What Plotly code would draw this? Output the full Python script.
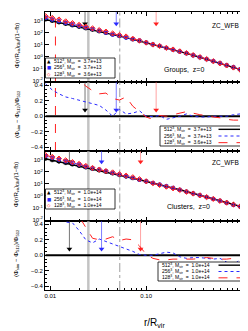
import plotly.graph_objects as go
from plotly.subplots import make_subplots

# ---------------- data ----------------
r = [0.00891, 0.01047, 0.0123, 0.01445, 0.0170, 0.01995, 0.02344, 0.02754,
     0.03236, 0.0380, 0.04467, 0.05248, 0.06166, 0.07244, 0.0851, 0.100,
     0.1175, 0.138, 0.1622, 0.1905, 0.2239, 0.263, 0.309, 0.363, 0.4266,
     0.501, 0.5888, 0.6918, 0.8128, 0.955, 1.122]

logphi512_groups = [3.12, 3.00, 2.88, 2.75, 2.63, 2.51, 2.38, 2.26, 2.13, 2.00,
                    1.87, 1.74, 1.61, 1.47, 1.34, 1.20, 1.05, 0.91, 0.76, 0.61,
                    0.45, 0.30, 0.14, -0.02, -0.18, -0.35, -0.52, -0.69, -0.86,
                    -1.04, -1.22]
res256_groups = [0.42, 0.34, 0.29, 0.25, 0.23, 0.21, 0.19, 0.17, 0.14, 0.08,
                 0.00, 0.09, 0.03, 0.04, 0.07, 0.00, -0.005, 0.01, -0.04, -0.02,
                 0.00, 0.03, 0.00, -0.01, -0.01, 0.00, 0.00, 0.00, 0.02, 0.03, 0.03]
res128_groups = [0.90, 0.80, 0.75, 0.65, 0.55, 0.47, 0.39, 0.33, 0.29, 0.30,
                 0.23, 0.21, 0.25, 0.13, 0.06, -0.01, -0.04, 0.01, 0.00, 0.02,
                 0.04, 0.06, 0.04, 0.02, 0.01, -0.01, -0.02, -0.04, -0.05, -0.05, -0.05]

logphi512_clusters = [3.10, 2.98, 2.86, 2.74, 2.62, 2.50, 2.37, 2.25, 2.12, 2.00,
                      1.87, 1.74, 1.61, 1.48, 1.35, 1.22, 1.08, 0.94, 0.80, 0.66,
                      0.52, 0.37, 0.22, 0.07, -0.08, -0.23, -0.39, -0.54, -0.70,
                      -0.86, -1.02]
res256_clusters = [0.70, 0.62, 0.50, 0.43, 0.42, 0.32, 0.20, 0.16, 0.21, 0.18,
                   0.15, 0.12, 0.09, 0.05, 0.01, 0.00, 0.00, 0.02, 0.04, 0.03,
                   -0.02, -0.04, -0.03, -0.03, -0.04, -0.05, -0.04, -0.09, -0.12,
                   -0.06, -0.04]
res128_clusters = [1.00, 0.90, 0.80, 0.70, 0.60, 0.50, 0.36, 0.22, 0.20, 0.21,
                   0.24, 0.19, 0.21, 0.20, 0.12, 0.01, -0.04, -0.06, -0.06, -0.05,
                   -0.05, -0.05, -0.05, -0.04, -0.03, -0.04, -0.05, -0.05, -0.04,
                   -0.04, -0.05]

# convergence-radius arrows (r, value in profile panel, value in residual panel)
arrow_r_groups = [0.023, 0.0487, 0.127]
arrow_r_clusters = [0.0158, 0.0342, 0.0873]
arrow_prof_groups = 600.0
arrow_prof_clusters = 700.0
arrow_res = 0.08

# vertical reference lines
vline_red_groups = 0.0113
vline_gray_solid = 0.0249
vline_gray_dashdot = 0.053

labels_groups = ["512<sup>3</sup>, M<sub>vir</sub>\u00a0 = \u00a03.7e+13",
                 "256<sup>3</sup>, M<sub>vir</sub>\u00a0 = \u00a03.7e+13",
                 "128<sup>3</sup>, M<sub>vir</sub>\u00a0 = \u00a03.6e+13"]
labels_clusters = ["512<sup>3</sup>, M<sub>vir</sub>\u00a0 = \u00a01.0e+14",
                   "256<sup>3</sup>, M<sub>vir</sub>\u00a0 = \u00a01.0e+14",
                   "128<sup>3</sup>, M<sub>vir</sub>\u00a0 = \u00a01.0e+14"]

ytick_vals = [1e-2, 1e-1, 1e0, 1e1, 1e2, 1e3]
ytick_text = ["10<sup>-2</sup>", "10<sup>-1</sup>", "10<sup>0</sup>",
              "10<sup>1</sup>", "10<sup>2</sup>", "10<sup>3</sup>"]
rtick_vals = [-0.4, -0.2, 0.0, 0.2, 0.4]
xtick_vals = [0.01, 0.1]
xtick_text = ["0.01", "0.10"]

# ---------------- styles ----------------
W, H = 248, 331
L, R, T, B = 37, 6, 4, 49
FONT = "Liberation Sans"
BLACK, BLUE, RED = "#000000", "#2a2aff", "#ff2020"
YPROF = [-2.05, 3.75]
YRES = [-0.45, 0.45]
XR = [-2.056, 0.083]


def px(x):
    return (x - L) / (W - L - R)


def py(y):
    return (H - B - y) / (H - T - B)


fig = make_subplots(rows=4, cols=1, shared_xaxes=True, vertical_spacing=0)

styles = [
    dict(color=BLACK, dash="solid", width=1.4, symbol="triangle-up", msize=3.5),
    dict(color=BLUE, dash="dot", width=1.0, symbol="square-open", msize=3),
    dict(color=RED, dash="dash", width=1.0, symbol="diamond-open", msize=4),
]

panels = [
    (1, logphi512_groups, res256_groups, res128_groups, arrow_r_groups, arrow_prof_groups),
    (3, logphi512_clusters, res256_clusters, res128_clusters, arrow_r_clusters, arrow_prof_clusters),
]

for row, logphi, res256, res128, arr_r, arr_prof in panels:
    phi512 = [10 ** v for v in logphi]
    res512 = [(p - p) / p for p in phi512]
    phi256 = [p * (1 + e) for p, e in zip(phi512, res256)]
    phi128 = [p * (1 + e) for p, e in zip(phi512, res128)]
    profs = [phi512, phi256, phi128]
    ress = [res512, res256, res128]

    # vertical lines
    vls = [(vline_gray_solid, "rgba(170,170,170,0.7)", "solid", 2.5),
           (vline_gray_dashdot, "rgba(120,120,120,0.9)", "dashdot", 0.8)]
    if row == 1:
        vls.append((vline_red_groups, RED, "dash", 1.0))
    for xv, c, d, w in vls:
        fig.add_trace(go.Scatter(x=[xv, xv], y=[10 ** YPROF[0], 10 ** YPROF[1]], mode="lines",
                                 line=dict(color=c, dash=d, width=w), showlegend=False,
                                 hoverinfo="skip"), row=row, col=1)
        fig.add_trace(go.Scatter(x=[xv, xv], y=YRES, mode="lines",
                                 line=dict(color=c, dash=d, width=w), showlegend=False,
                                 hoverinfo="skip"), row=row + 1, col=1)

    # arrows
    arrow_cols = ["rgba(60,60,60,0.7)", "rgba(40,40,255,0.6)", "rgba(255,90,90,0.55)"]
    arrow_heads = [BLACK, BLUE, RED]
    for xa, lc, hc in zip(arr_r, arrow_cols, arrow_heads):
        fig.add_trace(go.Scatter(x=[xa, xa], y=[10 ** YPROF[1], arr_prof], mode="lines",
                                 line=dict(color=lc, width=1), showlegend=False,
                                 hoverinfo="skip"), row=row, col=1)
        fig.add_trace(go.Scatter(x=[xa], y=[arr_prof], mode="markers",
                                 marker=dict(symbol="triangle-down", size=5, color=hc),
                                 showlegend=False, hoverinfo="skip"), row=row, col=1)
        fig.add_trace(go.Scatter(x=[xa, xa], y=[YRES[1], arrow_res], mode="lines",
                                 line=dict(color=lc, width=1), showlegend=False,
                                 hoverinfo="skip"), row=row + 1, col=1)
        fig.add_trace(go.Scatter(x=[xa], y=[arrow_res], mode="markers",
                                 marker=dict(symbol="triangle-down", size=5, color=hc),
                                 showlegend=False, hoverinfo="skip"), row=row + 1, col=1)

    # profile lines
    for prof, st in zip(profs, styles):
        fig.add_trace(go.Scatter(x=r, y=prof, mode="lines",
                                 line=dict(color=st["color"], dash=st["dash"], width=st["width"]),
                                 showlegend=False), row=row, col=1)
    # profile markers with error bars
    for prof, st in zip(profs, styles):
        fig.add_trace(go.Scatter(x=r, y=prof, mode="markers",
                                 marker=dict(symbol=st["symbol"], size=st["msize"], color=st["color"],
                                             line=dict(width=1, color=st["color"])),
                                 error_y=dict(type="percent", value=25, thickness=0.8, width=1,
                                              color=st["color"]),
                                 showlegend=False), row=row, col=1)
    # residual lines
    for res, st in zip(ress, styles):
        w = 1.8 if st["color"] == BLACK else st["width"]
        fig.add_trace(go.Scatter(x=r, y=res, mode="lines",
                                 line=dict(color=st["color"], dash=st["dash"], width=w),
                                 showlegend=False), row=row + 1, col=1)

# ---------------- axes ----------------
axis_common = dict(showline=True, linecolor="black", linewidth=1, mirror="allticks",
                   ticks="inside", tickcolor="black", ticklen=4, tickwidth=0.8,
                   showgrid=False, zeroline=False,
                   tickfont=dict(family=FONT, size=6, color="black"))
for i in range(1, 5):
    fig.update_xaxes(type="log", range=XR, tickvals=xtick_vals, ticktext=xtick_text,
                     minor=dict(ticks="inside", ticklen=2, tickcolor="black", dtick="D1"),
                     showticklabels=(i == 4), row=i, col=1, **axis_common)
for i in (1, 3):
    fig.update_yaxes(type="log", range=YPROF, tickvals=ytick_vals, ticktext=ytick_text,
                     row=i, col=1, **axis_common)
for i in (2, 4):
    fig.update_yaxes(range=YRES, tickvals=rtick_vals, tickformat=".1f",
                     minor=dict(ticks="inside", ticklen=2, tickcolor="black", dtick=0.05),
                     row=i, col=1, **axis_common)

# ---------------- annotations / manual legends ----------------
ann = []
shapes = []


def text(x, y, s, size, **kw):
    d = dict(x=px(x), y=py(y), xref="paper", yref="paper", text=s, showarrow=False,
             xanchor="center", yanchor="middle",
             font=dict(family=FONT, size=size, color="black"))
    d.update(kw)
    ann.append(d)


text(217, 18, "ZC_WFB", 6.5)
text(217, 155, "ZC_WFB", 6.5)
text(176, 62, "Groups,  z=0", 7)
text(180, 198, "Clusters,  z=0", 7)
text(146, 315, "r/R<sub>vir</sub>", 10)

ytitle1 = "\u03a6(r/R<sub>vir</sub>)<sub>DM</sub>/(1\u2212fb)"
ytitle2 = "(\u03a6<sub>sim</sub> \u2212 \u03a6<sub>512</sub>)/\u03a6<sub>512</sub>"
for off in (0, 139):
    text(9, 37 + off, ytitle1, 6, textangle=-90)
    text(9, 106 + off, ytitle2, 6, textangle=-90)


def marker_legend(x0, x1, y0, y1, labels):
    shapes.append(dict(type="rect", xref="paper", yref="paper", x0=px(x0), x1=px(x1),
                       y0=py(y1), y1=py(y0), line=dict(color="black", width=0.8),
                       fillcolor="white", layer="above"))
    syms = ["\u25b2", "\u25a0", "\u25c7"]
    cols = [BLACK, BLUE, RED]
    step = (y1 - y0) / 3
    for k, (s, c, lab) in enumerate(zip(syms, cols, labels)):
        yy = y0 + step * (k + 0.5)
        text(40.5, yy, s, 4.5, font=dict(family="DejaVu Sans", size=4.5, color=c))
        text(43.5, yy, lab, 5, xanchor="left")


def line_legend(x0, x1, y0, y1, labels):
    shapes.append(dict(type="rect", xref="paper", yref="paper", x0=px(x0), x1=px(x1),
                       y0=py(y1), y1=py(y0), line=dict(color="black", width=0.8),
                       fillcolor="white", layer="above"))
    step = (y1 - y0) / 3
    for k, (st, lab) in enumerate(zip(styles, labels)):
        yy = y0 + step * (k + 0.5)
        text(x0 + 2, yy, lab, 5, xanchor="left")
        shapes.append(dict(type="line", xref="paper", yref="paper", x0=px(x1 - 31), x1=px(x1 - 7),
                           y0=py(yy), y1=py(yy), layer="above",
                           line=dict(color=st["color"], dash=st["dash"], width=st["width"])))


marker_legend(37.5, 107, 50, 70, labels_groups)
marker_legend(37.5, 107, 181, 201, labels_clusters)
line_legend(152, 241.5, 118, 138, labels_groups)
line_legend(150, 241.5, 254, 273, labels_clusters)

fig.update_layout(width=W, height=H, autosize=False,
                  margin=dict(l=L, r=R, t=T, b=B),
                  plot_bgcolor="white", paper_bgcolor="white",
                  showlegend=False, annotations=ann, shapes=shapes,
                  font=dict(family=FONT, size=6, color="black"))

fig.write_html("out.html")
